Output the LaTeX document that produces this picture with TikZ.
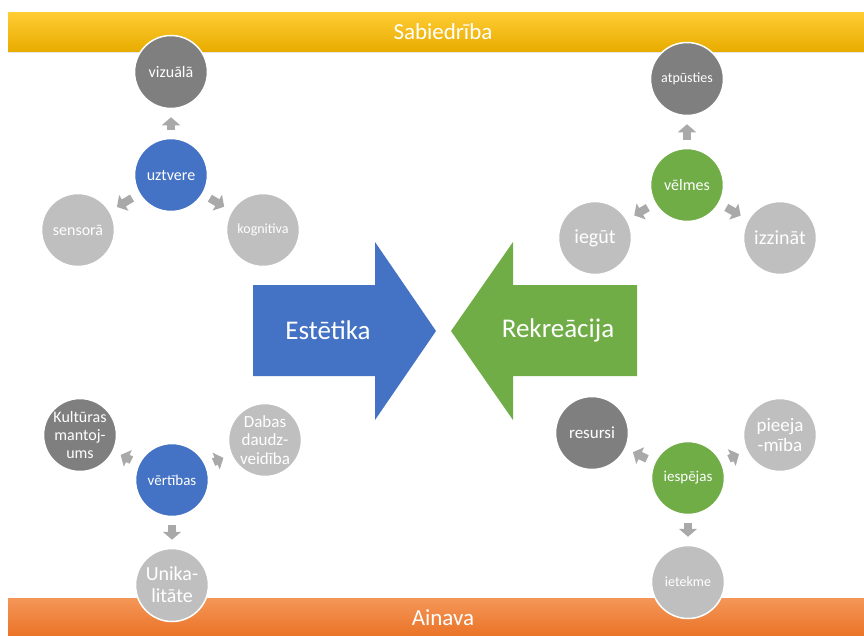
\documentclass[tikz,border=0pt]{standalone}
\usepackage{fontspec}
\setmainfont{Carlito}
\usetikzlibrary{arrows.meta, shadows}
\definecolor{accblue}{HTML}{4472C4}
\definecolor{accgreen}{HTML}{70AD47}
\definecolor{darkgrey}{HTML}{7F7F7F}
\definecolor{lightgrey}{HTML}{BFBFBF}
\definecolor{arrowgrey}{HTML}{A9A9A9}
\newcommand{\fs}[1]{\fontsize{#1}{1.1\dimexpr#1pt\relax}\selectfont}
\tikzset{vertex/.style = {shape = circle, draw = white, line width = 1.5pt, minimum size = 73pt, inner sep = 0pt, text = white, align = center, font = \fs{16}}}
\tikzset{hubblue/.style = {vertex, fill = accblue}}
\tikzset{hubgreen/.style = {vertex, fill = accgreen}}
\tikzset{dark/.style = {vertex, fill = darkgrey}}
\tikzset{light/.style = {vertex, fill = lightgrey}}
\tikzset{edge/.style = {-{Triangle[width = 18pt, length = 8pt]}, line width = 8pt, draw = arrowgrey, shorten < = 8pt, shorten > = 8pt}}
\tikzset{bar/.style = {shape = rectangle, minimum width = 856pt, minimum height = 39pt, inner sep = 0pt, text = white, font = \fs{23}, drop shadow = {opacity = 0.2, shadow xshift = 0pt, shadow yshift = -1.5pt}}}
\tikzset{bigtext/.style = {text = white, inner sep = 0pt, font = \fs{27}}}

\begin{document}
\begin{tikzpicture}[x = 1pt, y = -1pt]
			\useasboundingbox (0, 0) rectangle (864, 635);

			% bars
			\node[bar, top color = {rgb,255:red,255;green,204;blue,51}, bottom color = {rgb,255:red,232;green,172;blue,0}] (soc) at (436, 32) {};
			\node[text = white, font = \fs{23}] (soct) at (443, 32) {Sabiedrība};
			\node[bar, top color = {rgb,255:red,244;green,150;blue,88}, bottom color = {rgb,255:red,234;green,114;blue,36}] (land) at (436, 618) {};
			\node[text = white, font = \fs{23}] (landt) at (443, 618) {Ainava};

			% big arrows
			\fill[accblue] (253, 285) -- (375, 285) -- (375, 242) -- (436, 331) -- (375, 420) -- (375, 376) -- (253, 376) -- cycle;
			\fill[accgreen] (637, 285) -- (513, 285) -- (513, 242) -- (451, 331) -- (513, 420) -- (513, 376) -- (637, 376) -- cycle;
			\node[bigtext] (aes) at (328, 330) {Estētika};
			\node[bigtext] (rec) at (558, 330) {Rekreācija};

			% perception
			\node[hubblue] (a) at (171, 175) {uztvere};
			\node[dark] (a1) at (171, 72) {vizuālā};
			\node[light] (a2) at (78, 230) {sensorā};
			\node[light, font = \fs{14}] (a3) at (263, 230) {kognitiva};

			% wishes
			\node[hubgreen] (b) at (687, 185) {vēlmes};
			\node[dark, font = \fs{14}] (b1) at (687, 79) {atpūsties};
			\node[light, font = \fs{20}] (b2) at (595, 238) {iegūt};
			\node[light, font = \fs{20}] (b3) at (780, 238) {izzināt};

			% values
			\node[hubblue, font = \fs{15}] (c) at (172, 480) {vērtības};
			\node[dark] (c1) at (80, 435) {Kultūras\\mantoj-\\ums};
			\node[light, font = \fs{17}] (c2) at (265, 440) {Dabas\\daudz-\\veidība};
			\node[light, font = \fs{20}] (c3) at (172, 585) {Unika-\\litāte};

			% opportunities
			\node[hubgreen, font = \fs{15}] (d) at (688, 478) {iespējas};
			\node[dark, font = \fs{17}] (d1) at (592, 433) {resursi};
			\node[light, font = \fs{19}] (d2) at (780, 435) {pieeja\\-mība};
			\node[light, font = \fs{14}] (d3) at (688, 582) {ietekme};

			\draw[edge] (a) to (a1);
			\draw[edge] (a) to (a2);
			\draw[edge] (a) to (a3);
			\draw[edge] (b) to (b1);
			\draw[edge] (b) to (b2);
			\draw[edge] (b) to (b3);
			\draw[edge] (c) to (c1);
			\draw[edge] (c) to (c2);
			\draw[edge] (c) to (c3);
			\draw[edge] (d) to (d1);
			\draw[edge] (d) to (d2);
			\draw[edge] (d) to (d3);
		\end{tikzpicture}
\end{document}
